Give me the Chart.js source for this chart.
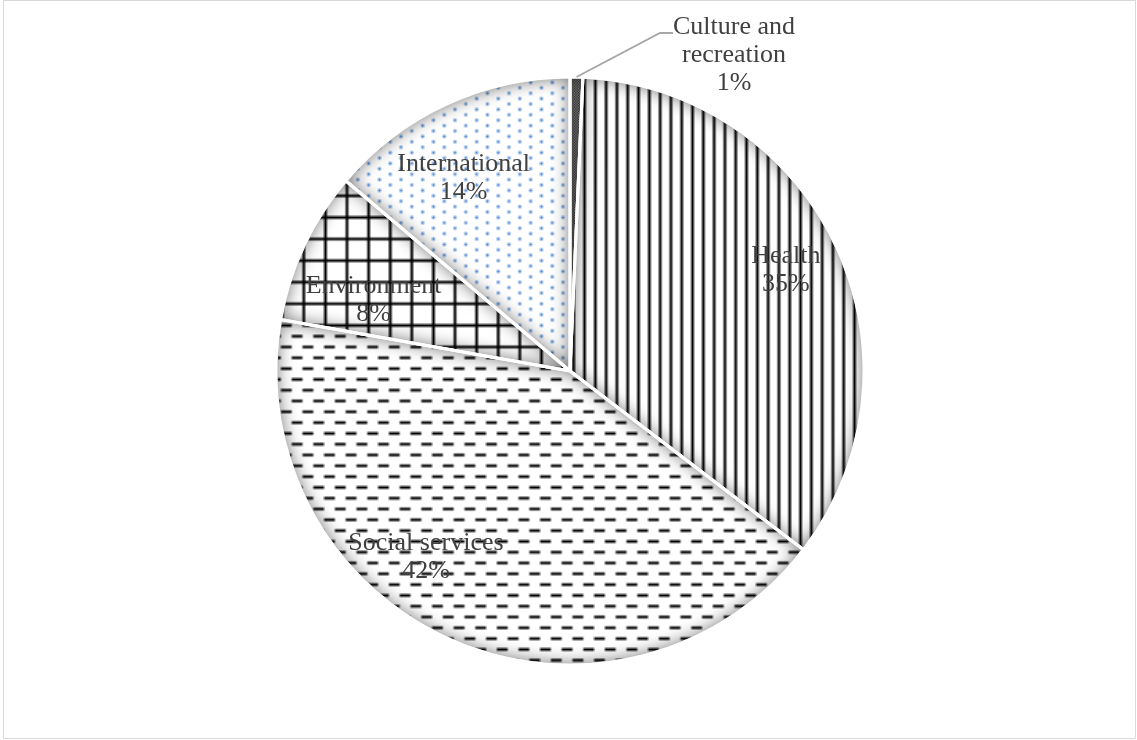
<!DOCTYPE html>
<html>
<head>
<meta charset="utf-8">
<script src="https://cdn.jsdelivr.net/npm/chart.js@4"></script>
<style>
  html, body { margin: 0; padding: 0; background: #fff; }
  #frame { position: absolute; left: 3px; top: 0px; width: 1131px; height: 737px; border: 1.5px solid #d9d9d9; box-sizing: content-box; }
  #wrap { position: absolute; left: 0; top: 0; width: 1137px; height: 740px; }
</style>
</head>
<body>
<div id="frame"></div>
<div id="wrap"><canvas id="c" width="1137" height="740"></canvas></div>
<script>
// ---- data ----
const categories = ['Culture and recreation', 'Health', 'Social services', 'Environment', 'International'];
const values = [0.7, 34.7, 42.4, 8.4, 13.8];

// ---- label placement (styling, not data) ----
const insidePlacement = [null, {rf: 0.81, da: 0}, {rf: 0.80, da: 14}, {rf: 0.71, da: -5.4}, {rf: 0.75, da: -4}];
const outsidePlacement = [{textDx: 164, textDy: -316, elbowDx: 90, elbowDy: -338, endDx: 103, maxWidth: 135}, null, null, null, null];

const FONT = '26px "Liberation Serif", "Times New Roman", serif';
const TEXT_COLOR = '#404040';
const LINE_H = 28;

function makePattern(w, h, bg, painter, scale) {
  const c = document.createElement('canvas');
  c.width = w; c.height = h;
  const x = c.getContext('2d');
  x.fillStyle = bg; x.fillRect(0, 0, w, h);
  painter(x);
  const ctx = document.getElementById('c').getContext('2d');
  const p = ctx.createPattern(c, 'repeat');
  p.setTransform(new DOMMatrix([scale, 0, 0, scale, 0, 0]));
  return p;
}
const S = 2.7;
const patCulture = makePattern(2, 2, '#b0b0b0', x => { x.fillStyle = '#3a3a3a'; x.fillRect(0,0,1,1); x.fillRect(1,1,1,1); }, 1.35);
const patHealth = makePattern(4, 1, '#ffffff', x => { x.fillStyle = '#000'; x.fillRect(0,0,1,1); }, S);
const patSocial = makePattern(8, 8, '#ffffff', x => { x.fillStyle = '#000'; x.fillRect(0,0,4,1); x.fillRect(4,4,4,1); }, S);
const patEnv = makePattern(8, 8, '#ffffff', x => { x.fillStyle = '#000'; x.fillRect(0,0,8,1); x.fillRect(0,0,1,8); }, S);
const patIntl = makePattern(8, 4, '#ffffff', x => { x.fillStyle = '#3f7fd0'; x.fillRect(0,0,1,1); x.fillRect(4,2,1,1); }, S);
const fills = [patCulture, patHealth, patSocial, patEnv, patIntl];

function arcPath(ctx, a) {
  ctx.beginPath();
  ctx.moveTo(a.x, a.y);
  ctx.arc(a.x, a.y, a.outerRadius, a.startAngle, a.endAngle);
  ctx.closePath();
}

const shadowPlugin = {
  id: 'innerShadow',
  afterDatasetsDraw(chart) {
    const ctx = chart.ctx;
    const meta = chart.getDatasetMeta(0);
    meta.data.forEach(el => {
      const a = el.getProps(['x','y','startAngle','endAngle','outerRadius'], true);
      ctx.save();
      arcPath(ctx, a);
      ctx.clip();
      ctx.beginPath();
      ctx.rect(-5000, -5000, 10000, 10000);
      ctx.moveTo(a.x, a.y);
      ctx.arc(a.x, a.y, a.outerRadius, a.startAngle, a.endAngle);
      ctx.closePath();
      ctx.shadowColor = 'rgba(0,0,0,0.6)';
      ctx.shadowBlur = 18;
      ctx.fillStyle = '#000';
      ctx.fill('evenodd');
      ctx.restore();
    });
    // white separators on top
    meta.data.forEach(el => {
      const a = el.getProps(['x','y','startAngle','endAngle','outerRadius'], true);
      ctx.save();
      ctx.strokeStyle = '#ffffff';
      ctx.lineWidth = 3;
      ctx.lineJoin = 'bevel';
      arcPath(ctx, a);
      ctx.stroke();
      ctx.restore();
    });
  },
  afterDraw(chart) {
    const ctx = chart.ctx;
    const meta = chart.getDatasetMeta(0);
    const total = values.reduce((s, v) => s + v, 0);
    ctx.save();
    ctx.font = FONT;
    ctx.fillStyle = TEXT_COLOR;
    ctx.textAlign = 'center';
    ctx.textBaseline = 'middle';
    meta.data.forEach((el, i) => {
      const a = el.getProps(['x','y','startAngle','endAngle','outerRadius'], true);
      const pct = Math.round(values[i] / total * 100) + '%';
      const mid = (a.startAngle + a.endAngle) / 2;
      if (insidePlacement[i]) {
        const pl = insidePlacement[i];
        const ang = mid + pl.da * Math.PI / 180;
        const cx = a.x + Math.cos(ang) * a.outerRadius * pl.rf;
        const cy = a.y + Math.sin(ang) * a.outerRadius * pl.rf;
        const lines = [categories[i], pct];
        lines.forEach((t, k) => ctx.fillText(t, cx, cy + (k - (lines.length - 1) / 2) * LINE_H));
      } else if (outsidePlacement[i]) {
        const pl = outsidePlacement[i];
        const sx = a.x + Math.cos(mid) * a.outerRadius;
        const sy = a.y + Math.sin(mid) * a.outerRadius;
        ctx.save();
        ctx.strokeStyle = '#a6a6a6';
        ctx.lineWidth = 1.8;
        ctx.beginPath();
        ctx.moveTo(sx, sy);
        ctx.lineTo(a.x + pl.elbowDx, a.y + pl.elbowDy);
        ctx.lineTo(a.x + pl.endDx, a.y + pl.elbowDy);
        ctx.stroke();
        ctx.restore();
        const words = categories[i].split(' ');
        const lines = [];
        let cur = '';
        words.forEach(w => {
          const test = cur ? cur + ' ' + w : w;
          if (ctx.measureText(test).width > pl.maxWidth && cur) { lines.push(cur); cur = w; }
          else cur = test;
        });
        if (cur) lines.push(cur);
        lines.push(pct);
        const tx = a.x + pl.textDx, ty = a.y + pl.textDy;
        lines.forEach((t, k) => ctx.fillText(t, tx, ty + (k - (lines.length - 1) / 2) * LINE_H));
      }
    });
    ctx.restore();
  }
};

new Chart(document.getElementById('c'), {
  type: 'pie',
  data: {
    labels: categories,
    datasets: [{
      data: values,
      backgroundColor: fills,
      borderColor: '#ffffff',
      borderWidth: 3,
      hoverOffset: 0,
      offset: 0
    }]
  },
  options: {
    responsive: false,
    animation: false,
    radius: 294,
    layout: { padding: { left: 13, right: 10, top: 12, bottom: 10 } },
    plugins: { legend: { display: false }, tooltip: { enabled: false } },
    events: []
  },
  plugins: [shadowPlugin]
});
</script>
</body>
</html>
